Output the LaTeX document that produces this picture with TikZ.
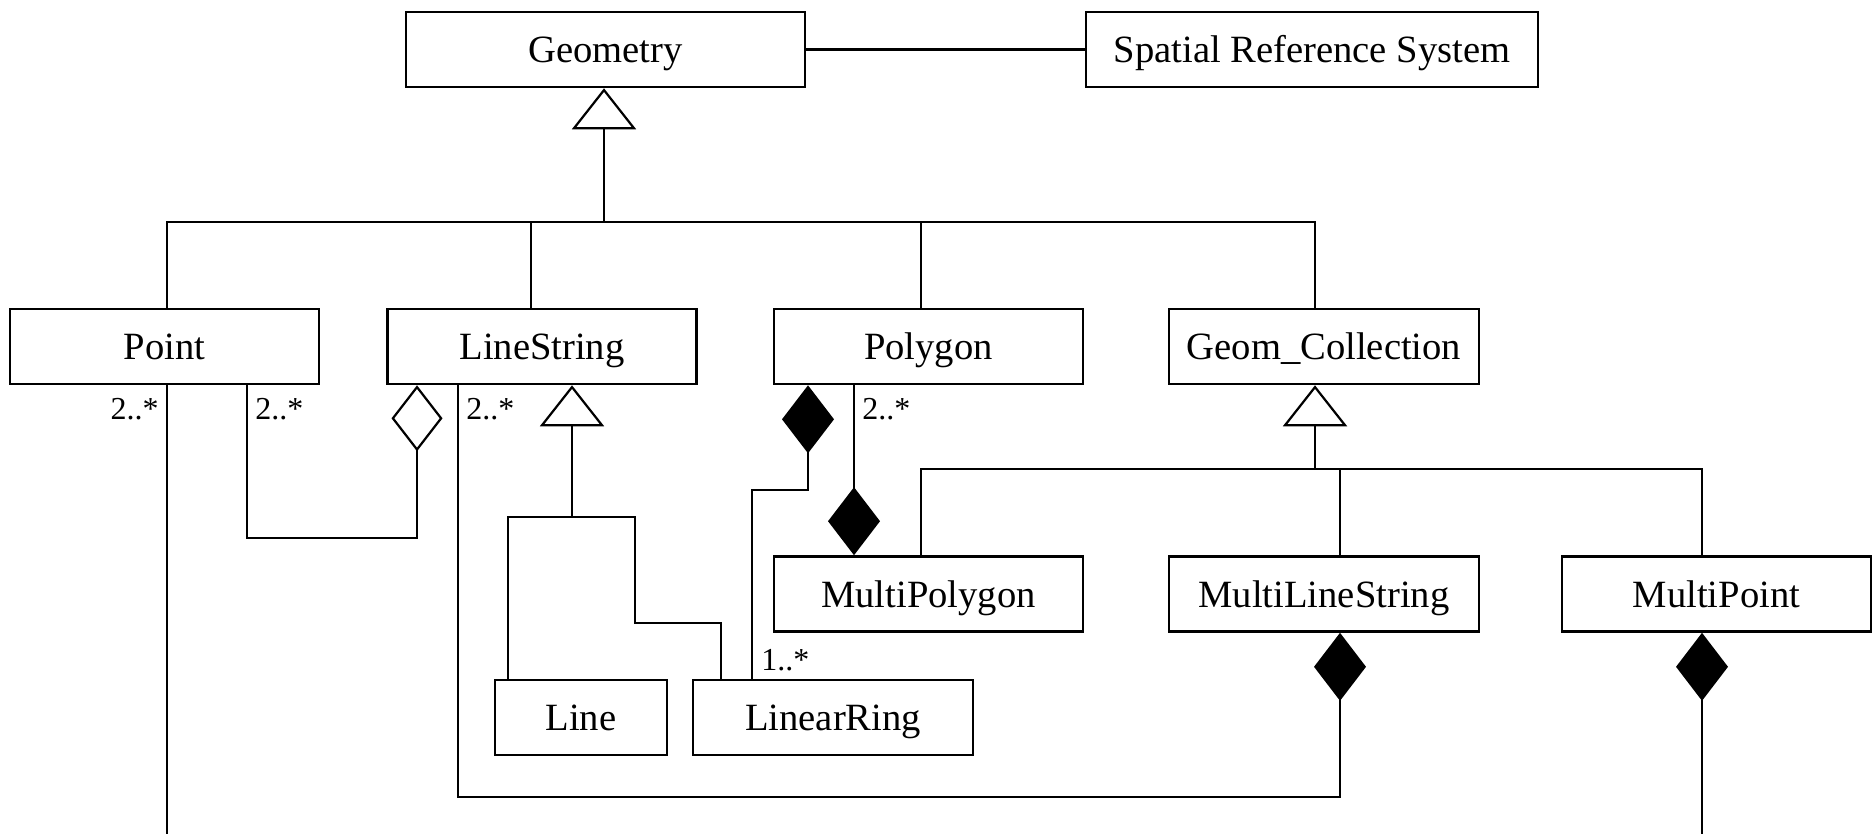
\documentclass[tikz,border=0pt]{standalone}
\usepackage{fontspec}
\setmainfont{Liberation Serif}
\usetikzlibrary{arrows.meta}
\begin{document}
\begin{tikzpicture}[x=0.5pt,y=-0.5pt,
  cls/.style={draw,line width=1.3pt,minimum height=37.5pt,inner sep=0pt,text height=13pt,text depth=0pt,font=\fontsize{19.3}{23}\selectfont},
  conn/.style={line width=1.1pt},
  gen/.style={conn,-{Triangle[open,length=20.5pt,width=32pt]}},
  agg/.style={conn,-{Diamond[open,length=33pt,width=25.5pt]}},
  comp/.style={conn,-{Diamond[length=34pt,width=26pt]}},
  lbl/.style={font=\fontsize{16}{19}\selectfont,inner sep=1pt}
]
\useasboundingbox (0,0) rectangle (1872,834);

% classes
\node[cls,minimum width=199.5pt] (geom) at (605.5,49.5) {Geometry};
\node[cls,minimum width=226pt] (srs) at (1312,49.5) {Spatial Reference System};
\node[cls,minimum width=154.5pt] (point) at (164.5,346.5) {Point};
\node[cls,minimum width=154.5pt] (ls) at (542,346.5) {LineString};
\node[cls,minimum width=154.5pt] (poly) at (928.5,346.5) {Polygon};
\node[cls,minimum width=155pt] (gc) at (1324,346.5) {Geom\_Collection};
\node[cls,minimum width=154.5pt] (mpoly) at (928.5,594) {MultiPolygon};
\node[cls,minimum width=155pt] (mls) at (1324,594) {MultiLineString};
\node[cls,minimum width=154.5pt] (mpt) at (1716.5,594) {MultiPoint};
\node[cls,minimum width=86pt] (line) at (581,717.5) {Line};
\node[cls,minimum width=140pt] (lr) at (833,717.5) {LinearRing};

% guide coordinates
\coordinate (xa) at (167,0);
\coordinate (xb) at (247,0);
\coordinate (xc) at (417,0);
\coordinate (xd) at (458,0);
\coordinate (xf) at (508,0);
\coordinate (xg) at (635,0);
\coordinate (xh) at (721,0);
\coordinate (xi) at (752,0);
\coordinate (xj) at (808,0);
\coordinate (xk) at (854,0);
\coordinate (xl) at (921,0);
\coordinate (xm) at (1315,0);
\coordinate (xn) at (1340,0);
\coordinate (xo) at (1702,0);
\coordinate (xp) at (531,0);
\coordinate (ya) at (0,538);
\coordinate (yb) at (0,797);
\coordinate (yc) at (0,623);
\coordinate (yd) at (0,490);
\coordinate (bus) at (604,222);
\coordinate (lsbus) at (572,517);
\coordinate (gcbus) at (1315,469);
\coordinate (ptend) at (167,834);
\coordinate (mpend) at (1702,834);

% association Geometry - SRS
\draw[conn] (geom.east) -- (srs.west);

% generalization to Geometry
\draw[gen] (bus) -- (geom.south -| bus);
\draw[conn] (point.north -| xa) -- (xa |- bus) -- (xm |- bus) -- (gc.north -| xm);
\draw[conn] (ls.north -| xp) -- (xp |- bus);
\draw[conn] (poly.north -| xl) -- (xl |- bus);

% generalization to LineString
\draw[gen] (lsbus) -- (ls.south -| lsbus);
\draw[conn] (line.north -| xf) -- (xf |- lsbus) -- (xg |- lsbus) -- (xg |- yc) -- (xh |- yc) -- (lr.north -| xh);

% generalization to Geom_Collection
\draw[gen] (gcbus) -- (gc.south -| gcbus);
\draw[conn] (mpoly.north -| xl) -- (xl |- gcbus) -- (xo |- gcbus) -- (mpt.north -| xo);
\draw[conn] (mls.north -| xn) -- (xn |- gcbus);

% Point - MultiPoint
\draw[conn] (point.south -| xa) -- (ptend);
\draw[comp] (mpend) -- (mpt.south -| xo);
\node[lbl,anchor=north east,xshift=-3pt,yshift=-5.5pt] (l1) at (point.south -| xa) {2..*};

% Point - LineString aggregation
\draw[agg] (point.south -| xb) -- (xb |- ya) -- (xc |- ya) -- (ls.south -| xc);
\node[lbl,anchor=north west,xshift=3pt,yshift=-5.5pt] (l2) at (point.south -| xb) {2..*};

% LineString - MultiLineString
\draw[comp] (ls.south -| xd) -- (xd |- yb) -- (xn |- yb) -- (mls.south -| xn);
\node[lbl,anchor=north west,xshift=3pt,yshift=-5.5pt] (l3) at (ls.south -| xd) {2..*};

% LinearRing - Polygon
\draw[comp] (lr.north -| xi) -- (xi |- yd) -- (xj |- yd) -- (poly.south -| xj);
\node[lbl,anchor=south west,xshift=3.5pt,yshift=2.5pt] (l4) at (lr.north -| xi) {1..*};

% Polygon - MultiPolygon
\draw[comp] (poly.south -| xk) -- (mpoly.north -| xk);
\node[lbl,anchor=north west,xshift=3pt,yshift=-5.5pt] (l5) at (poly.south -| xk) {2..*};
\end{tikzpicture}
\end{document}
